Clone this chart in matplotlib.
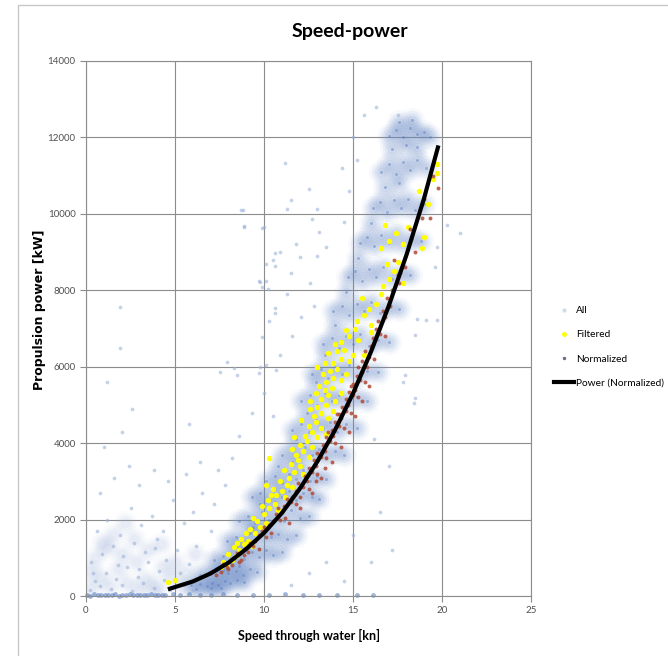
import matplotlib.pyplot as plt
from matplotlib.lines import Line2D
from matplotlib.patches import Rectangle

# Speed-power scatter: all / filtered / normalized samples + power trend line

# "All" samples - dense band (speed [kn], power [kW])
all_band = [
    (5.9, 280), (6.4, 320), (6.8, 250), (7.1, 350), (7.4, 300), (7.8, 380), (8.1, 330), (8.5, 420),
    (8.9, 360), (6.2, 180), (7.0, 200), (7.6, 220),
    (6.4, 560), (6.9, 620), (7.3, 540), (7.7, 680), (8.0, 600), (8.4, 650), (8.8, 560), (9.2, 700),
    (9.6, 640), (7.5, 750), (8.6, 780),
    (7.2, 950), (7.7, 1050), (8.1, 900), (8.5, 1100), (8.9, 980), (9.3, 1150), (9.7, 1020),
    (10.1, 1200), (10.5, 1080), (11.0, 1150), (8.3, 1250), (9.0, 1300),
    (7.9, 1450), (8.4, 1550), (8.8, 1400), (9.2, 1650), (9.6, 1500), (10.0, 1700), (10.4, 1550),
    (10.8, 1620), (11.3, 1480), (11.8, 1600), (9.4, 1800),
    (8.6, 1950), (9.1, 2100), (9.5, 1900), (9.9, 2200), (10.3, 2000), (10.7, 2150), (11.1, 1950),
    (11.5, 2250), (12.0, 2050), (12.5, 2100), (9.8, 2400), (10.6, 2450),
    (9.3, 2600), (9.8, 2700), (10.2, 2550), (10.6, 2800), (11.0, 2600), (11.4, 2750), (11.8, 2500),
    (12.2, 2700), (12.7, 2600), (13.1, 2550),
    (10.1, 3000), (10.6, 3150), (11.0, 2950), (11.4, 3200), (11.8, 3050), (12.2, 3300), (12.6, 3000),
    (13.0, 3150), (13.5, 3050), (10.8, 3400), (11.6, 3500),
    (11.0, 3700), (11.5, 3850), (11.9, 3600), (12.3, 3900), (12.7, 3700), (13.1, 3850), (13.5, 3650),
    (14.0, 3800), (14.5, 3700), (11.8, 4100),
    (11.6, 4350), (12.1, 4500), (12.5, 4300), (12.9, 4600), (13.3, 4400), (13.7, 4550), (14.1, 4300),
    (14.6, 4500), (15.2, 4400), (12.4, 4800),
    (12.1, 5100), (12.6, 5250), (13.0, 5000), (13.4, 5300), (13.8, 5100), (14.2, 5250), (14.7, 5050),
    (15.2, 5200), (15.8, 5100), (12.9, 5600),
    (12.7, 5800), (13.2, 5950), (13.6, 5700), (14.0, 6000), (14.4, 5800), (14.8, 6050), (15.3, 5750),
    (15.8, 5900), (16.4, 5850), (13.4, 6300),
    (13.3, 6600), (13.8, 6750), (14.2, 6500), (14.6, 6800), (15.0, 6600), (15.4, 6850), (15.9, 6550),
    (16.4, 6700), (17.0, 6650), (14.0, 7100),
    (13.9, 7450), (14.4, 7600), (14.8, 7350), (15.2, 7650), (15.6, 7450), (16.0, 7700), (16.5, 7400),
    (17.0, 7550), (17.6, 7500), (14.6, 7950),
    (14.7, 8350), (15.1, 8500), (15.5, 8250), (15.9, 8550), (16.3, 8350), (16.7, 8600), (17.2, 8300),
    (17.7, 8450), (18.2, 8400), (15.3, 8850),
    (15.4, 9250), (15.8, 9400), (16.2, 9150), (16.6, 9450), (17.0, 9250), (17.4, 9500), (17.8, 9200),
    (18.3, 9350), (18.8, 9300), (16.0, 9750),
    (16.1, 10150), (16.5, 10300), (16.9, 10050), (17.3, 10350), (17.7, 10150), (18.1, 10400),
    (18.5, 10100), (19.0, 10250), (16.8, 10700), (17.6, 10800),
    (16.6, 11100), (17.0, 11300), (17.4, 11050), (17.8, 11350), (18.2, 11150), (18.6, 11400),
    (19.1, 11200), (17.2, 11700), (18.0, 11800), (18.6, 11750),
    (17.0, 12050), (17.4, 12200), (17.8, 12000), (18.2, 12250), (18.6, 12100), (19.0, 12150),
    (17.6, 12400), (18.3, 12450), (19.3, 12000),
]

# "All" samples - low speed / low power cloud
all_low = [
    (0.3, 200), (0.8, 500), (1.3, 250), (1.8, 700), (2.3, 350), (2.8, 900), (3.3, 450), (3.8, 300),
    (4.3, 750), (4.8, 500), (0.5, 1000), (1.2, 1250), (2.0, 1100), (2.7, 1500), (3.5, 1200),
    (4.2, 1350), (5.0, 900), (5.6, 600), (6.1, 1100), (5.4, 250), (0.2, 650), (1.5, 1600),
    (3.0, 150), (4.0, 100), (2.2, 1900), (0.9, 1400),
]

# "All" samples - scattered outliers
all_scatter = [
    (0.2, 150), (0.5, 400), (0.8, 250), (1.1, 600), (1.4, 180), (1.7, 450), (2.0, 300), (2.3, 750),
    (2.6, 120), (2.9, 500), (3.2, 350), (3.5, 900), (3.8, 200), (4.1, 650), (4.4, 420), (4.7, 150),
    (0.3, 900), (0.9, 1100), (1.5, 1300), (2.1, 1050), (2.7, 1400), (3.3, 1150), (3.9, 1250),
    (4.5, 950), (0.6, 1700), (1.2, 2000), (1.9, 1600), (2.5, 2300), (3.1, 1850), (3.7, 2100),
    (4.3, 1700), (4.9, 2500), (5.3, 600), (5.8, 850), (6.2, 1300), (6.6, 400), (7.0, 1700),
    (5.5, 1900), (6.0, 2200), (6.5, 2700), (7.2, 2400), (7.8, 2900), (0.8, 2700), (1.6, 3100),
    (2.4, 3400), (3.0, 2900), (3.8, 3300), (4.6, 3000), (5.6, 3200), (6.4, 3500), (7.4, 3300),
    (8.2, 3600), (1.0, 3900), (2.0, 4300), (1.2, 5600), (2.6, 4900), (5.8, 4500), (8.6, 4200),
    (0.4, 600), (1.8, 800), (3.0, 700), (4.0, 1500), (5.1, 1200), (6.0, 150), (5.5, 300),
    (1.9, 7550), (1.9, 6500), (8.8, 10100), (8.9, 9670), (10.0, 9650), (10.6, 8970), (10.1, 8680),
    (10.6, 8630), (9.7, 8240), (10.1, 8240), (9.9, 8090), (10.6, 7530), (10.6, 7400), (10.3, 7190),
    (9.9, 6780), (7.9, 6130), (8.3, 5960), (7.5, 5860), (8.5, 5780), (9.7, 5830), (10.1, 6040),
    (10.7, 5910), (11.2, 11330), (12.5, 10660), (14.4, 11190), (11.5, 10350), (11.3, 10120),
    (13.0, 10120), (8.7, 10090), (8.9, 9650), (9.9, 9640), (12.7, 9870), (13.1, 9520),
    (13.5, 9130), (10.9, 9000), (11.8, 9220), (12.0, 8870), (11.5, 8440), (9.8, 8220),
    (10.2, 8040), (10.5, 8780), (9.3, 4800), (10.0, 5300), (10.5, 4700), (9.8, 6000),
    (10.9, 6300), (11.6, 6800), (12.1, 7300), (11.3, 7900), (12.6, 8200), (13.0, 8900),
    (12.8, 7600), (14.8, 10600), (15.2, 11400), (14.5, 9800), (15.0, 12000), (15.6, 12600),
    (16.3, 12800), (17.5, 12580), (21.0, 9490), (20.3, 9700), (19.7, 9130), (19.6, 8610),
    (18.6, 7260), (19.7, 7220), (19.1, 7220), (18.5, 6820), (17.9, 5780), (17.8, 5600),
    (18.5, 5180), (18.4, 5050), (15.0, 1600), (16.0, 900), (13.5, 900), (14.5, 400),
    (16.5, 2200), (17.2, 1200), (12.5, 600), (11.5, 300), (17.0, 3400), (16.2, 4100),
]

# "All" samples - zero-power line
all_zero = [
    (0.05, 30), (0.25, 10), (0.45, 40), (0.65, 20), (0.85, 35), (1.05, 15), (1.25, 30), (1.45, 25),
    (1.65, 40), (1.85, 10), (2.05, 30), (2.25, 20), (2.45, 40), (2.65, 15), (2.85, 35), (3.05, 25),
    (3.25, 30), (3.45, 20), (3.65, 40), (3.85, 15), (4.05, 30), (4.25, 25), (4.45, 35),
    (4.9, 40), (5.3, 20), (5.8, 45), (6.4, 30), (7.0, 15), (7.7, 40), (8.5, 25), (9.4, 35),
    (10.3, 20), (11.2, 40), (12.2, 25), (13.1, 35), (14.1, 20), (15.2, 30), (16.1, 25),
]

filtered = [
    (4.6, 375), (5.0, 420),
    (7.9, 820), (8.2, 950), (7.6, 750), (8.4, 1050), (8.0, 1100), (7.7, 900),
    (8.6, 1200), (8.9, 1350), (8.3, 1280), (9.1, 1450), (8.7, 1500), (9.3, 1300),
    (9.5, 1650), (9.2, 1750), (9.8, 1800), (9.6, 1950), (10.1, 1900), (9.4, 2050),
    (10.0, 2150), (10.3, 2300), (9.9, 2350), (10.6, 2400), (10.2, 2500), (10.8, 2250),
    (10.7, 2650), (11.0, 2750), (10.5, 2800), (11.3, 2900), (10.9, 3000), (11.6, 2850), (11.2, 2600),
    (11.4, 3100), (11.7, 3250), (11.1, 3300), (12.0, 3400), (11.5, 3450), (12.2, 3200), (11.9, 3550),
    (11.8, 3700), (12.2, 3800), (12.5, 3650), (12.0, 3950), (12.7, 3900), (12.4, 4050), (11.6, 3850),
    (12.3, 4200), (12.7, 4300), (13.0, 4150), (12.5, 4450), (13.2, 4400), (12.9, 4550), (13.5, 4250),
    (12.8, 4700), (13.2, 4800), (13.6, 4650), (13.0, 4950), (13.5, 5000), (13.9, 4850), (12.6, 4900),
    (13.2, 5150), (13.6, 5250), (14.0, 5100), (13.4, 5400), (13.8, 5450), (14.3, 5300), (12.9, 5300),
    (13.5, 5600), (13.9, 5700), (14.3, 5650), (13.7, 5900), (14.1, 5950), (14.6, 5800), (13.3, 5800),
    (13.9, 6100), (14.3, 6200), (14.8, 6150), (14.1, 6400), (14.5, 6450), (15.0, 6300), (13.6, 6350),
    (14.3, 6650), (14.8, 6800), (15.3, 6700), (14.6, 6950), (15.1, 7000), (15.6, 6300), (16.0, 6900),
    (15.2, 7200), (15.6, 7350), (15.9, 7500), (16.3, 7650), (15.5, 7800), (16.6, 7900), (16.0, 7100),
    (16.7, 8100), (17.0, 8300), (17.3, 8500), (16.9, 8700), (17.5, 8750), (17.8, 8200),
    (16.6, 9100), (17.0, 9300), (17.4, 9500), (17.8, 9200), (18.1, 9650), (16.8, 9700),
    (18.9, 9100), (19.0, 9400), (18.7, 10600), (19.2, 10250), (19.7, 11300), (19.7, 11080),
    (19.5, 10900), (10.3, 3600), (10.1, 2900),
    (12.1, 4600), (12.6, 5100), (13.1, 5500), (13.0, 6000), (13.4, 6100), (11.7, 4150),
    (10.4, 2650), (9.0, 1650), (8.5, 1400), (14.0, 6600),
]

normalized = [
    (7.3, 560), (7.6, 640), (7.0, 620), (7.9, 760), (8.2, 820), (7.7, 850),
    (8.3, 1000), (8.7, 950), (8.9, 1080), (8.5, 1120), (9.0, 1250), (9.4, 1300), (9.7, 1230),
    (9.2, 1380), (9.7, 1600), (10.1, 1550), (10.4, 1650), (9.9, 1700),
    (10.5, 1950), (10.9, 2000), (11.2, 2050), (10.7, 2150), (11.4, 1900),
    (11.1, 2350), (11.5, 2450), (11.8, 2400), (11.3, 2550), (12.0, 2300),
    (11.8, 2750), (12.2, 2850), (12.5, 2800), (11.9, 2950), (12.7, 2700),
    (12.3, 3150), (12.7, 3250), (13.0, 3200), (12.5, 3350), (13.2, 3100),
    (12.8, 3550), (13.2, 3650), (13.5, 3600), (13.0, 3750), (13.8, 3500),
    (13.3, 3950), (13.7, 4050), (14.0, 4000), (13.5, 4150), (14.3, 3900),
    (13.8, 4350), (14.2, 4450), (14.5, 4400), (14.0, 4550), (14.8, 4300),
    (14.2, 4750), (14.6, 4850), (14.9, 4800), (14.4, 4950), (15.1, 4700),
    (14.6, 5150), (15.0, 5250), (15.3, 5200), (14.8, 5350), (15.5, 5100),
    (15.0, 5550), (15.4, 5650), (15.7, 5600), (15.2, 5750), (15.9, 5500),
    (15.5, 6150), (15.9, 6250), (16.2, 6200), (15.7, 6400),
    (16.1, 6750), (16.5, 6850), (16.8, 6800), (16.3, 7000),
    (16.7, 7450), (17.1, 7600), (16.9, 7800), (17.5, 8400), (17.9, 8600), (17.3, 8800),
    (18.5, 9000), (18.2, 9600), (18.9, 9900), (19.0, 10400), (19.5, 11000),
    (19.8, 10680), (19.3, 9900),
    (8.0, 700), (8.6, 880), (9.1, 1150), (9.5, 1450), (10.0, 1800), (10.3, 1850), (10.8, 2300),
    (11.0, 2200), (11.6, 2600), (12.0, 2600), (12.4, 3000), (12.9, 3400), (13.4, 3800),
    (13.6, 4300), (13.9, 4200), (14.3, 4650), (14.7, 5000), (15.1, 5400), (15.5, 5850),
    (15.8, 6000), (16.0, 6550), (16.4, 7200), (16.8, 7300), (17.2, 8000), (17.6, 8200),
    (12.9, 3000), (13.4, 3350), (14.1, 4750), (14.9, 5500), (15.3, 6000),
]

# trend line
curve_speed = [4.6, 6, 7, 8, 9, 10, 11, 12, 13, 14, 15, 16, 17, 18, 19, 19.8]
curve_power = [175, 380, 590, 870, 1230, 1650, 2170, 2800, 3520, 4350, 5300, 6380, 7580, 8920, 10420, 11790]

x_ticks = [0, 5, 10, 15, 20, 25]
y_ticks = [0, 2000, 4000, 6000, 8000, 10000, 12000, 14000]

W, H = 668, 656
fig = plt.figure(figsize=(W / 100, H / 100), dpi=100)

# chart-area border (Excel style)
fig.patches.append(Rectangle((18 / W, -0.1), 1.2, 1 - 5 / H + 0.1, transform=fig.transFigure,
                             fill=False, edgecolor='#c8c8c8', linewidth=1))

ax = fig.add_axes([86 / W, 1 - 596 / H, (531 - 86) / W, (596 - 61) / H])

grid_c = '#8c8c8c'
ax.set_xlim(0, 25)
ax.set_ylim(0, 14000)
ax.set_xticks(x_ticks)
ax.set_yticks(y_ticks)
ax.grid(True, color=grid_c, linewidth=0.8)
ax.set_axisbelow(True)
for s in ax.spines.values():
    s.set_color(grid_c)
    s.set_linewidth(0.8)
ax.tick_params(colors=grid_c, length=4, width=0.8, labelsize=7, labelcolor='#505050')
for lab in ax.get_xticklabels() + ax.get_yticklabels():
    lab.set_family('Lato')

def xs(pts):
    return [p[0] for p in pts]

def ys(pts):
    return [p[1] for p in pts]

# soft haze for the dense cloud (stacked sizes -> soft edges), then dots on top
for size, a in [(320, 0.05), (200, 0.08), (110, 0.10), (50, 0.11)]:
    ax.scatter(xs(all_band), ys(all_band), s=size, color='#6a8bc9', alpha=a, linewidths=0, zorder=2)
    ax.scatter(xs(all_low), ys(all_low), s=size, color='#9db3de', alpha=a * 0.8, linewidths=0, zorder=2)
ax.scatter(xs(all_band), ys(all_band), s=5, color='#5a7dbf', alpha=0.45, linewidths=0, zorder=2)
ax.scatter(xs(all_scatter), ys(all_scatter), s=7, color='#9fb3d9', alpha=0.6, linewidths=0, zorder=2)
ax.scatter(xs(all_zero), ys(all_zero), s=12, color='#5f82c0', alpha=0.6, linewidths=0, zorder=2,
           clip_on=False)
ax.scatter(xs(filtered), ys(filtered), s=15, color='#ffff00', linewidths=0, zorder=3)
ax.scatter(xs(normalized), ys(normalized), s=8, color='#b04a36', alpha=0.85, linewidths=0, zorder=4)
ax.plot(curve_speed, curve_power, color='black', linewidth=3, solid_capstyle='butt', zorder=5)

fig.text(350 / W, 1 - 32 / H, 'Speed-power', ha='center', va='center',
         fontsize=14, fontweight='bold', family='Lato')
fig.text(309 / W, 1 - 635 / H, 'Speed through water [kn]', ha='center', va='center',
         fontsize=9, fontweight='bold', family='Lato')
fig.text(40 / W, 1 - 310 / H, 'Propulsion power [kW]', ha='center', va='center', rotation=90,
         fontsize=9, fontweight='bold', family='DejaVu Sans')

handles = [
    Line2D([], [], marker='o', ls='none', ms=2, color='#d0dbee'),
    Line2D([], [], marker='o', ls='none', ms=2.5, color='#ffff00'),
    Line2D([], [], marker='o', ls='none', ms=1.5, color='#7a6a8a'),
    Line2D([], [], color='black', linewidth=3),
]
labels = ['All', 'Filtered', 'Normalized', 'Power (Normalized)']
fig.legend(handles, labels, loc='upper left', bbox_to_anchor=(554 / W, 1 - 306 / H),
           frameon=False, prop={'family': 'Lato', 'size': 7.3}, labelspacing=1.5,
           handlelength=2.0, handletextpad=0.15, borderpad=0, borderaxespad=0)

fig.savefig('out.png', dpi=100)
